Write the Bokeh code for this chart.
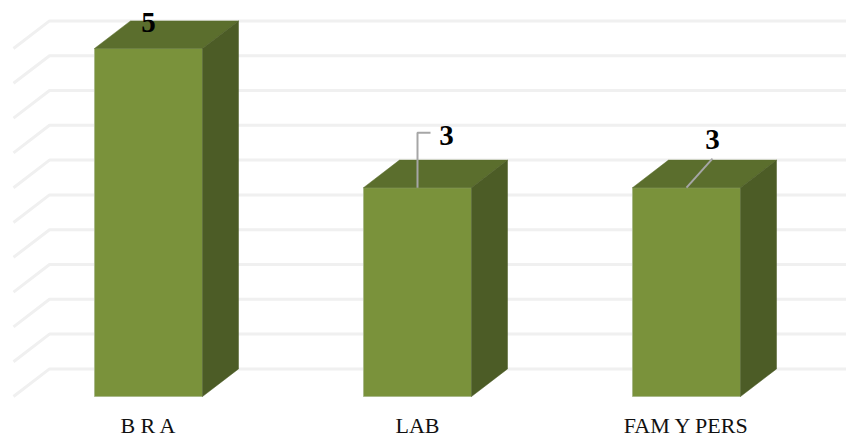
from bokeh.plotting import figure
from bokeh.models import Range1d, FixedTicker
from bokeh.core.properties import value
from bokeh.embed import file_html
from bokeh.resources import INLINE

categories = ["B R A", "LAB", "FAM Y PERS"]
values = [5, 3, 3]
grid_values = [0, 0.5, 1, 1.5, 2, 2.5, 3, 3.5, 4, 4.5, 5]

FRONT, TOP, SIDE = "#7A923B", "#5B6E2D", "#4C5C26"
GRID = "#F0F0F0"
LEADER = "#A6A6A6"

# scale: pixels per category / per unit of value
PX_X, PX_Y = 269.0, 69.6
FRAME_W, FRAME_H = 846, 398
X0_PX, Y0_PX = 148.0, 396.0   # where category 0 / value 0 fall in the frame
half = 54 / PX_X
dx = 36 / PX_X
dy = 27.6 / PX_Y
wall = -99 / PX_X             # left edge of the back wall
right = (FRAME_W - X0_PX) / PX_X

p = figure(frame_width=FRAME_W, frame_height=FRAME_H, output_backend="svg",
           toolbar_location=None, y_axis_location=None, min_border=0,
           x_range=Range1d(-X0_PX / PX_X, right),
           y_range=Range1d((Y0_PX - FRAME_H) / PX_Y, Y0_PX / PX_Y))
p.grid.visible = False
p.outline_line_color = None
p.background_fill_color = "white"

# back wall + floor/side gridlines
xs_g = [[wall - dx, wall, right] for _ in grid_values]
ys_g = [[g, g + dy, g + dy] for g in grid_values]
p.multi_line(xs_g, ys_g, line_color=GRID, line_width=3)

xi = list(range(len(categories)))
# bars: front, top, side
p.quad(left=[i - half for i in xi], right=[i + half for i in xi],
       bottom=[0] * 3, top=values, fill_color=FRONT,
       line_color="#A9B98A", line_width=1)
p.patches([[i - half, i + half, i + half + dx, i - half + dx] for i in xi],
          [[v, v, v + dy, v + dy] for v in values],
          fill_color=TOP, line_color=TOP, line_width=0.5)
p.patches([[i + half, i + half + dx, i + half + dx, i + half] for i in xi],
          [[0, dy, v + dy, v] for v in values],
          fill_color=SIDE, line_color=SIDE, line_width=0.5)

# leader lines of the moved data labels
p.line([1, 1, 1 + 13 / PX_X], [values[1], values[1] + 55 / PX_Y, values[1] + 55 / PX_Y],
       line_color=LEADER, line_width=2)
p.line([2, 2 + 26 / PX_X], [values[2], values[2] + 29 / PX_Y],
       line_color=LEADER, line_width=2)

# data labels
lab_dx = [0, 29, 26]
lab_dy = [26, 52, 48]
p.text([i + a / PX_X for i, a in zip(xi, lab_dx)],
       [v + b / PX_Y for v, b in zip(values, lab_dy)],
       text=[str(v) for v in values],
       text_font=value("Liberation Serif"), text_font_style="bold",
       text_font_size="29px", text_color="#000000",
       text_align="center", text_baseline="middle")

ax = p.xaxis[0]
ax.ticker = FixedTicker(ticks=xi)
ax.major_label_overrides = {i: c for i, c in zip(xi, categories)}
ax.axis_line_color = None
ax.major_tick_line_color = None
ax.minor_tick_line_color = None
ax.major_label_standoff = 8
ax.major_label_text_font = "Liberation Serif"
ax.major_label_text_font_size = "22px"
ax.major_label_text_color = "#111111"

open("out.html", "w").write(file_html(p, INLINE))
